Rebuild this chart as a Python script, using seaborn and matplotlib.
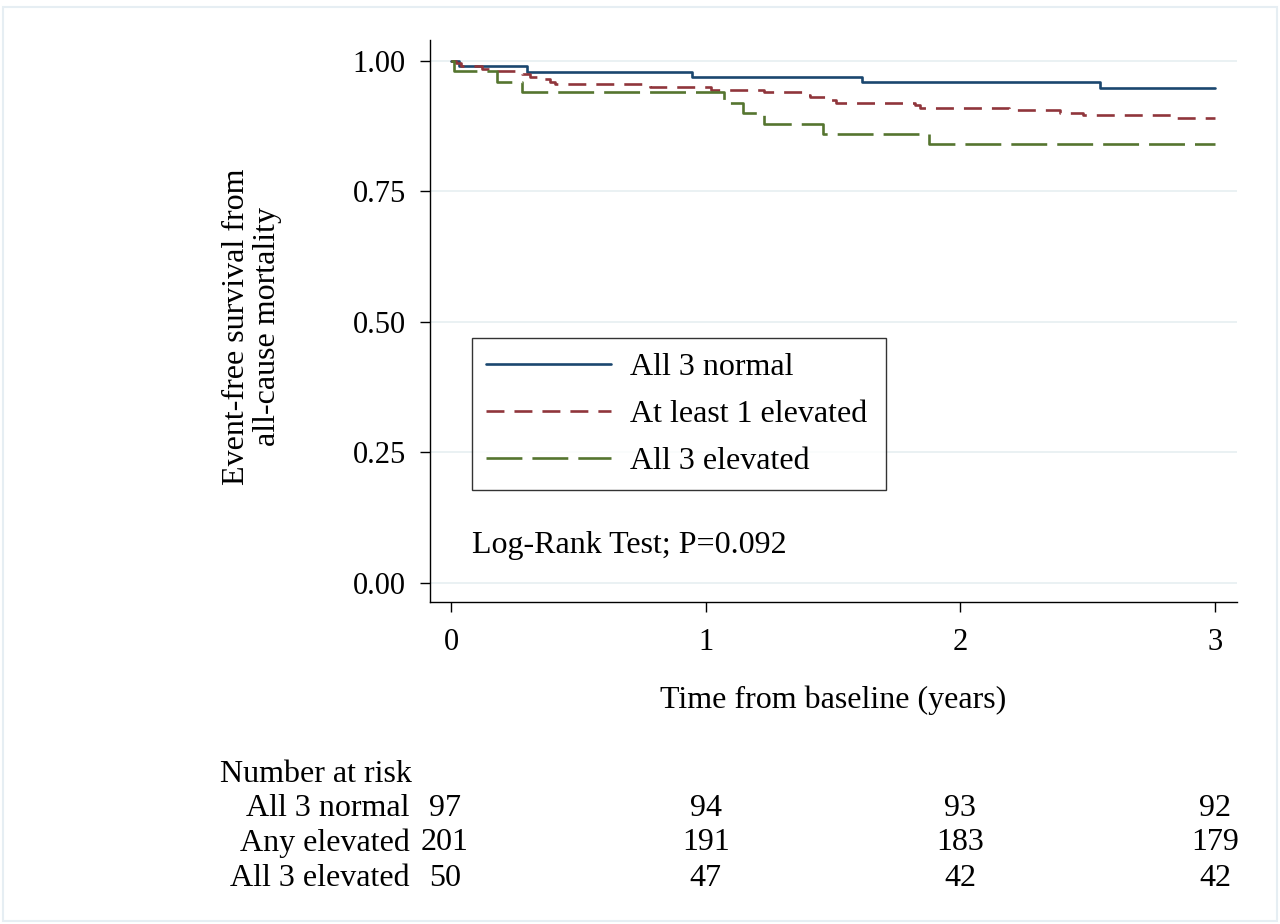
import matplotlib
matplotlib.use("Agg")
import matplotlib.pyplot as plt
import matplotlib.transforms as mtransforms
from matplotlib.lines import Line2D
from matplotlib.patches import Rectangle
import seaborn as sns
import pandas as pd

# ---------------- data ----------------
normal_time = [0.0, 0.03, 0.297, 0.945, 1.612, 2.548, 3.0]
normal_surv = [1.000, 0.990, 0.979, 0.969, 0.959, 0.948, 0.948]

anyelev_time = [0.0, 0.02, 0.04, 0.12, 0.15, 0.28, 0.31, 0.36, 0.39, 0.41, 0.78,
                1.02, 1.23, 1.39, 1.41, 1.49, 1.51, 1.82, 1.84,
                2.19, 2.39, 2.48, 2.84, 3.0]
anyelev_surv = [1.000, 0.995, 0.990, 0.985, 0.980, 0.975, 0.970, 0.965, 0.960, 0.955, 0.950,
                0.945, 0.940, 0.935, 0.930, 0.925, 0.920, 0.915, 0.910,
                0.905, 0.900, 0.896, 0.891, 0.891]

allelev_time = [0.0, 0.01, 0.18, 0.278, 1.07, 1.148, 1.23, 1.462, 1.878, 3.0]
allelev_surv = [1.00, 0.98, 0.96, 0.94, 0.92, 0.90, 0.88, 0.86, 0.84, 0.84]

legend_labels = ["All 3 normal", "At least 1 elevated", "All 3 elevated"]
risk_labels = ["All 3 normal", "Any elevated", "All 3 elevated"]
risk_times = [0, 1, 2, 3]
risk_normal = [97, 94, 93, 92]
risk_anyelev = [201, 191, 183, 179]
risk_allelev = [50, 47, 42, 42]

y_ticks = [0.00, 0.25, 0.50, 0.75, 1.00]
x_ticks = [0, 1, 2, 3]

# ---------------- style ----------------
sns.set_theme(style="white")
plt.rcParams["font.family"] = ["Liberation Serif", "DejaVu Serif"]
plt.rcParams["text.color"] = "black"
plt.rcParams["axes.labelcolor"] = "black"
plt.rcParams["xtick.color"] = "black"
plt.rcParams["ytick.color"] = "black"
FS = 23
TFS = 22

colors = ["#1a476f", "#90353b", "#55752f"]
lw = 1.9
dash_styles = [None, (6.8, 3.8), (13.6, 3.8)]

fig = plt.figure(figsize=(12.8, 9.24), dpi=100)
ax = fig.add_axes([430 / 1280, 1 - 602 / 924, 807 / 1280, 562 / 924])

series = [
    (normal_time, normal_surv),
    (anyelev_time, anyelev_surv),
    (allelev_time, allelev_surv),
]
for (t, s), lab, c, d in zip(series, legend_labels, colors, dash_styles):
    df = pd.DataFrame({"time": t, "surv": s})
    sns.lineplot(data=df, x="time", y="surv", ax=ax, color=c, linewidth=lw,
                 drawstyle="steps-post", estimator=None, sort=False)
    line = ax.lines[-1]
    if d is not None:
        line.set_dashes(d)
        line.set_dash_capstyle("butt")

ax.set_xlim(-0.0825, 3.086)
ax.set_ylim(-0.0364, 1.040)
ax.set_xticks(x_ticks)
ax.set_xticklabels([str(v) for v in x_ticks])
ax.set_yticks(y_ticks)
ax.set_yticklabels([f"{v:.2f}" for v in y_ticks])
ax.set_xlabel("")
ax.set_ylabel("")

ax.yaxis.grid(True, color="#e8f0f2", linewidth=1.3)
ax.xaxis.grid(False)
ax.set_axisbelow(True)

for sp in ["top", "right"]:
    ax.spines[sp].set_visible(False)
for sp in ["left", "bottom"]:
    ax.spines[sp].set_color("black")
    ax.spines[sp].set_linewidth(1.0)

ax.tick_params(axis="both", which="major", direction="out", length=7.5, width=1.0,
               color="black", labelsize=TFS, labelcolor="black")
ax.tick_params(axis="y", pad=10)
ax.tick_params(axis="x", pad=11)
ax.tick_params(left=True, bottom=True)

# legend
handles = []
for c, d in zip(colors, dash_styles):
    h = Line2D([0], [0], color=c, linewidth=lw)
    if d is not None:
        h.set_dashes(d)
    handles.append(h)
leg = ax.legend(handles, legend_labels, loc="lower left",
                bbox_to_anchor=(0.052, 0.199, 0.513, 0.271), mode="expand",
                fontsize=FS, frameon=True, fancybox=False, shadow=False,
                handlelength=3.9, handletextpad=0.6, labelspacing=0.55,
                borderpad=0.45, borderaxespad=0.0)
leg.get_frame().set_edgecolor("black")
leg.get_frame().set_linewidth(1.0)
leg.get_frame().set_facecolor("white")
for txt in leg.get_texts():
    txt.set_color("black")

ax.text(0.052, 0.101, "Log-Rank Test; P=0.092", transform=ax.transAxes,
        fontsize=FS, ha="left", va="center", color="black")

# axis titles
fig.text(252 / 1280, 1 - 327 / 924, "Event-free survival from\nall-cause mortality",
         rotation=90, ha="center", va="center", fontsize=FS, linespacing=1.1)
fig.text(833 / 1280, 1 - 700 / 924, "Time from baseline (years)",
         ha="center", va="center", fontsize=FS)

# number at risk table
fig.text(220 / 1280, 1 - 775 / 924, "Number at risk", ha="left", va="center", fontsize=FS)
trans = mtransforms.blended_transform_factory(ax.transData, fig.transFigure)
row_y = [808, 843, 878]
for lab, vals, yy in zip(risk_labels, [risk_normal, risk_anyelev, risk_allelev], row_y):
    fig.text(410 / 1280, 1 - yy / 924, lab, ha="right", va="center", fontsize=FS)
    for tx, v in zip(risk_times, vals):
        xoff = -0.025 if tx == 0 else 0.0
        ax.text(tx + xoff, 1 - yy / 924, str(v), transform=trans, ha="center",
                va="center", fontsize=FS, clip_on=False)

# light outer border
fig.patches.append(Rectangle((3 / 1280, 3 / 924), 1274 / 1280, 914 / 924,
                             transform=fig.transFigure, fill=False,
                             edgecolor="#e6eef3", linewidth=1.5))

fig.savefig("out.png", dpi=100, facecolor="white")
